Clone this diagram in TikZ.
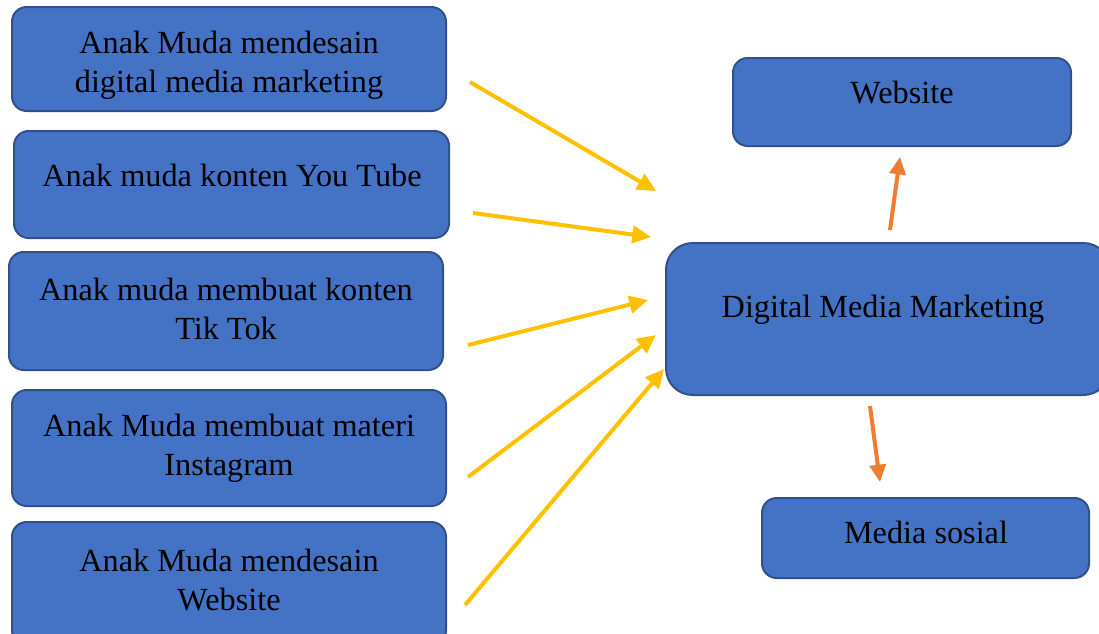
\documentclass[tikz,border=0pt]{standalone}
\usepackage{fontspec}
\setmainfont{Liberation Serif}
\usetikzlibrary{arrows.meta}
\definecolor{boxfill}{HTML}{4472C4}
\definecolor{boxline}{HTML}{2F528F}
\definecolor{yarrow}{HTML}{FFC000}
\definecolor{oarrow}{HTML}{ED7D31}
\tikzset{
  box/.style={draw=boxline, fill=boxfill, line width=1.5pt, rounded corners=11pt, inner sep=0pt},
  txt/.style={align=center, inner sep=0pt, font=\fontsize{24.2}{29.2}\selectfont},
  yarr/.style={draw=yarrow, line width=3pt, -{Triangle[length=14pt,width=13pt]}},
  oarr/.style={draw=oarrow, line width=3pt, -{Triangle[length=13pt,width=12pt]}}
}
\begin{document}
\begin{tikzpicture}[x=0.75pt,y=-0.75pt]
\useasboundingbox (0,0) rectangle (1099,633);
% left boxes
\node[box, minimum width=325.5pt, minimum height=78pt] (b1) at (229,59) {};
\node[box, minimum width=326.25pt, minimum height=80.25pt] (b2) at (231.5,184.5) {};
\node[box, minimum width=325.5pt, minimum height=88.5pt] (b3) at (226,311) {};
\node[box, minimum width=325.5pt, minimum height=87pt] (b4) at (229,448) {};
\node[box, minimum width=325.5pt, minimum height=92.25pt] (b5) at (229,583.5) {};
% right boxes
\node[box, minimum width=253.5pt, minimum height=66pt] (web) at (902,102) {};
\node[box, rounded corners=20pt, minimum width=333pt, minimum height=114pt] (dmm) at (888,319) {};
\node[box, minimum width=245.25pt, minimum height=60pt] (ms) at (925.5,538) {};
% texts
\node[txt] (t1) at (229,65) {Anak Muda mendesain\\digital media marketing};
\node[txt] (t2) at (232,175) {Anak muda konten You Tube};
\node[txt] (t3) at (226,309) {Anak muda membuat konten\\Tik Tok};
\node[txt] (t4) at (229,448.5) {Anak Muda membuat materi\\Instagram};
\node[txt] (t5) at (229,580) {Anak Muda mendesain\\Website};
\node[txt] (tw) at (902,93) {Website};
\node[txt] (td) at (883,310) {Digital Media Marketing};
\node[txt] (tm) at (926,532) {Media sosial};
% arrow end points
\coordinate (a1s) at (470,82);  \coordinate (a1e) at (656,191);
\coordinate (a2s) at (473,213); \coordinate (a2e) at (651,237);
\coordinate (a3s) at (468,345); \coordinate (a3e) at (648,300);
\coordinate (a4s) at (468,477); \coordinate (a4e) at (656,335);
\coordinate (a5s) at (465,605); \coordinate (a5e) at (664,369);
\coordinate (o1s) at (890,230); \coordinate (o1e) at (900,157);
\coordinate (o2s) at (870,406); \coordinate (o2e) at (880,482);
\draw[yarr] (a1s) -- (a1e);
\draw[yarr] (a2s) -- (a2e);
\draw[yarr] (a3s) -- (a3e);
\draw[yarr] (a4s) -- (a4e);
\draw[yarr] (a5s) -- (a5e);
\draw[oarr] (o1s) -- (o1e);
\draw[oarr] (o2s) -- (o2e);
\end{tikzpicture}
\end{document}
